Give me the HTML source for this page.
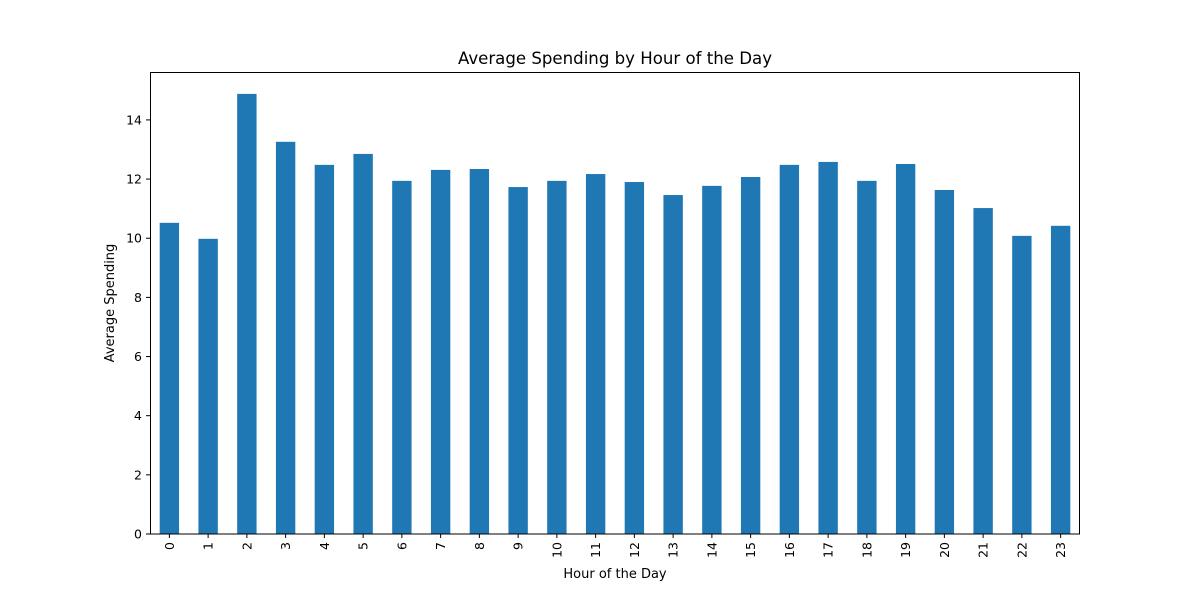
<!DOCTYPE html>
<html><head><meta charset="utf-8"><style>
body{margin:0;background:#fff;}
svg{display:block;font-family:"DejaVu Sans","Liberation Sans",sans-serif;}
</style></head><body>
<svg id="chart" width="1200" height="600">
<text x="615" y="64" text-anchor="middle" font-size="16.6">Average Spending by Hour of the Day</text>
<g id="bars"></g>
<g id="yaxis"></g>
<g id="xaxis"></g>
<rect x="150.5" y="72.5" width="929" height="461.5" fill="none" stroke="#000" stroke-width="1"/>
<text x="615" y="578" text-anchor="middle" font-size="13">Hour of the Day</text>
<text transform="translate(114,303) rotate(-90)" text-anchor="middle" font-size="13">Average Spending</text>
</svg>
<script>
const categories=["0","1","2","3","4","5","6","7","8","9","10","11","12","13","14","15","16","17","18","19","20","21","22","23"];
const values=[10.52,9.98,14.88,13.26,12.48,12.85,11.94,12.31,12.34,11.73,11.94,12.17,11.90,11.46,11.77,12.07,12.48,12.58,11.94,12.51,11.63,11.02,10.08,10.42];
const yTicks=[0,2,4,6,8,10,12,14];
const NS="http://www.w3.org/2000/svg";
const x0=150,x1=1080,yb=534,yt=72,ymax=15.62;
const y=v=>yb-(v/ymax)*(yb-yt);
const slot=(x1-x0)/categories.length;
const xc=i=>x0+slot*(i+0.5);
function mk(tag,attrs,parent){const e=document.createElementNS(NS,tag);for(const k in attrs)e.setAttribute(k,attrs[k]);parent.appendChild(e);return e;}
const gb=document.getElementById('bars'),gy=document.getElementById('yaxis'),gx=document.getElementById('xaxis');
values.forEach((v,i)=>{
 const w=slot*0.5;
 const r=mk('rect',{x:xc(i)-w/2,y:y(v),width:w,height:yb-y(v),fill:'#1f77b4'},gb);
 
 
 const t=mk('line',{x1:xc(i),x2:xc(i),y1:yb,y2:yb+4,stroke:'#000'},gx);
 
 
 const lb=mk('text',{transform:`translate(${xc(i)+4.5},${yb+8}) rotate(-90)`,'text-anchor':'end','font-size':'12.5'},gx);
 lb.textContent=categories[i];
 
 
});
yTicks.forEach(v=>{
 const t=mk('line',{x1:x0-4,x2:x0,y1:y(v),y2:y(v),stroke:'#000'},gy);
 
 
 const lb=mk('text',{x:x0-8,y:y(v)+4.5,'text-anchor':'end','font-size':'12.5'},gy);
 lb.textContent=v;
 
 
});
</script>
</body></html>
